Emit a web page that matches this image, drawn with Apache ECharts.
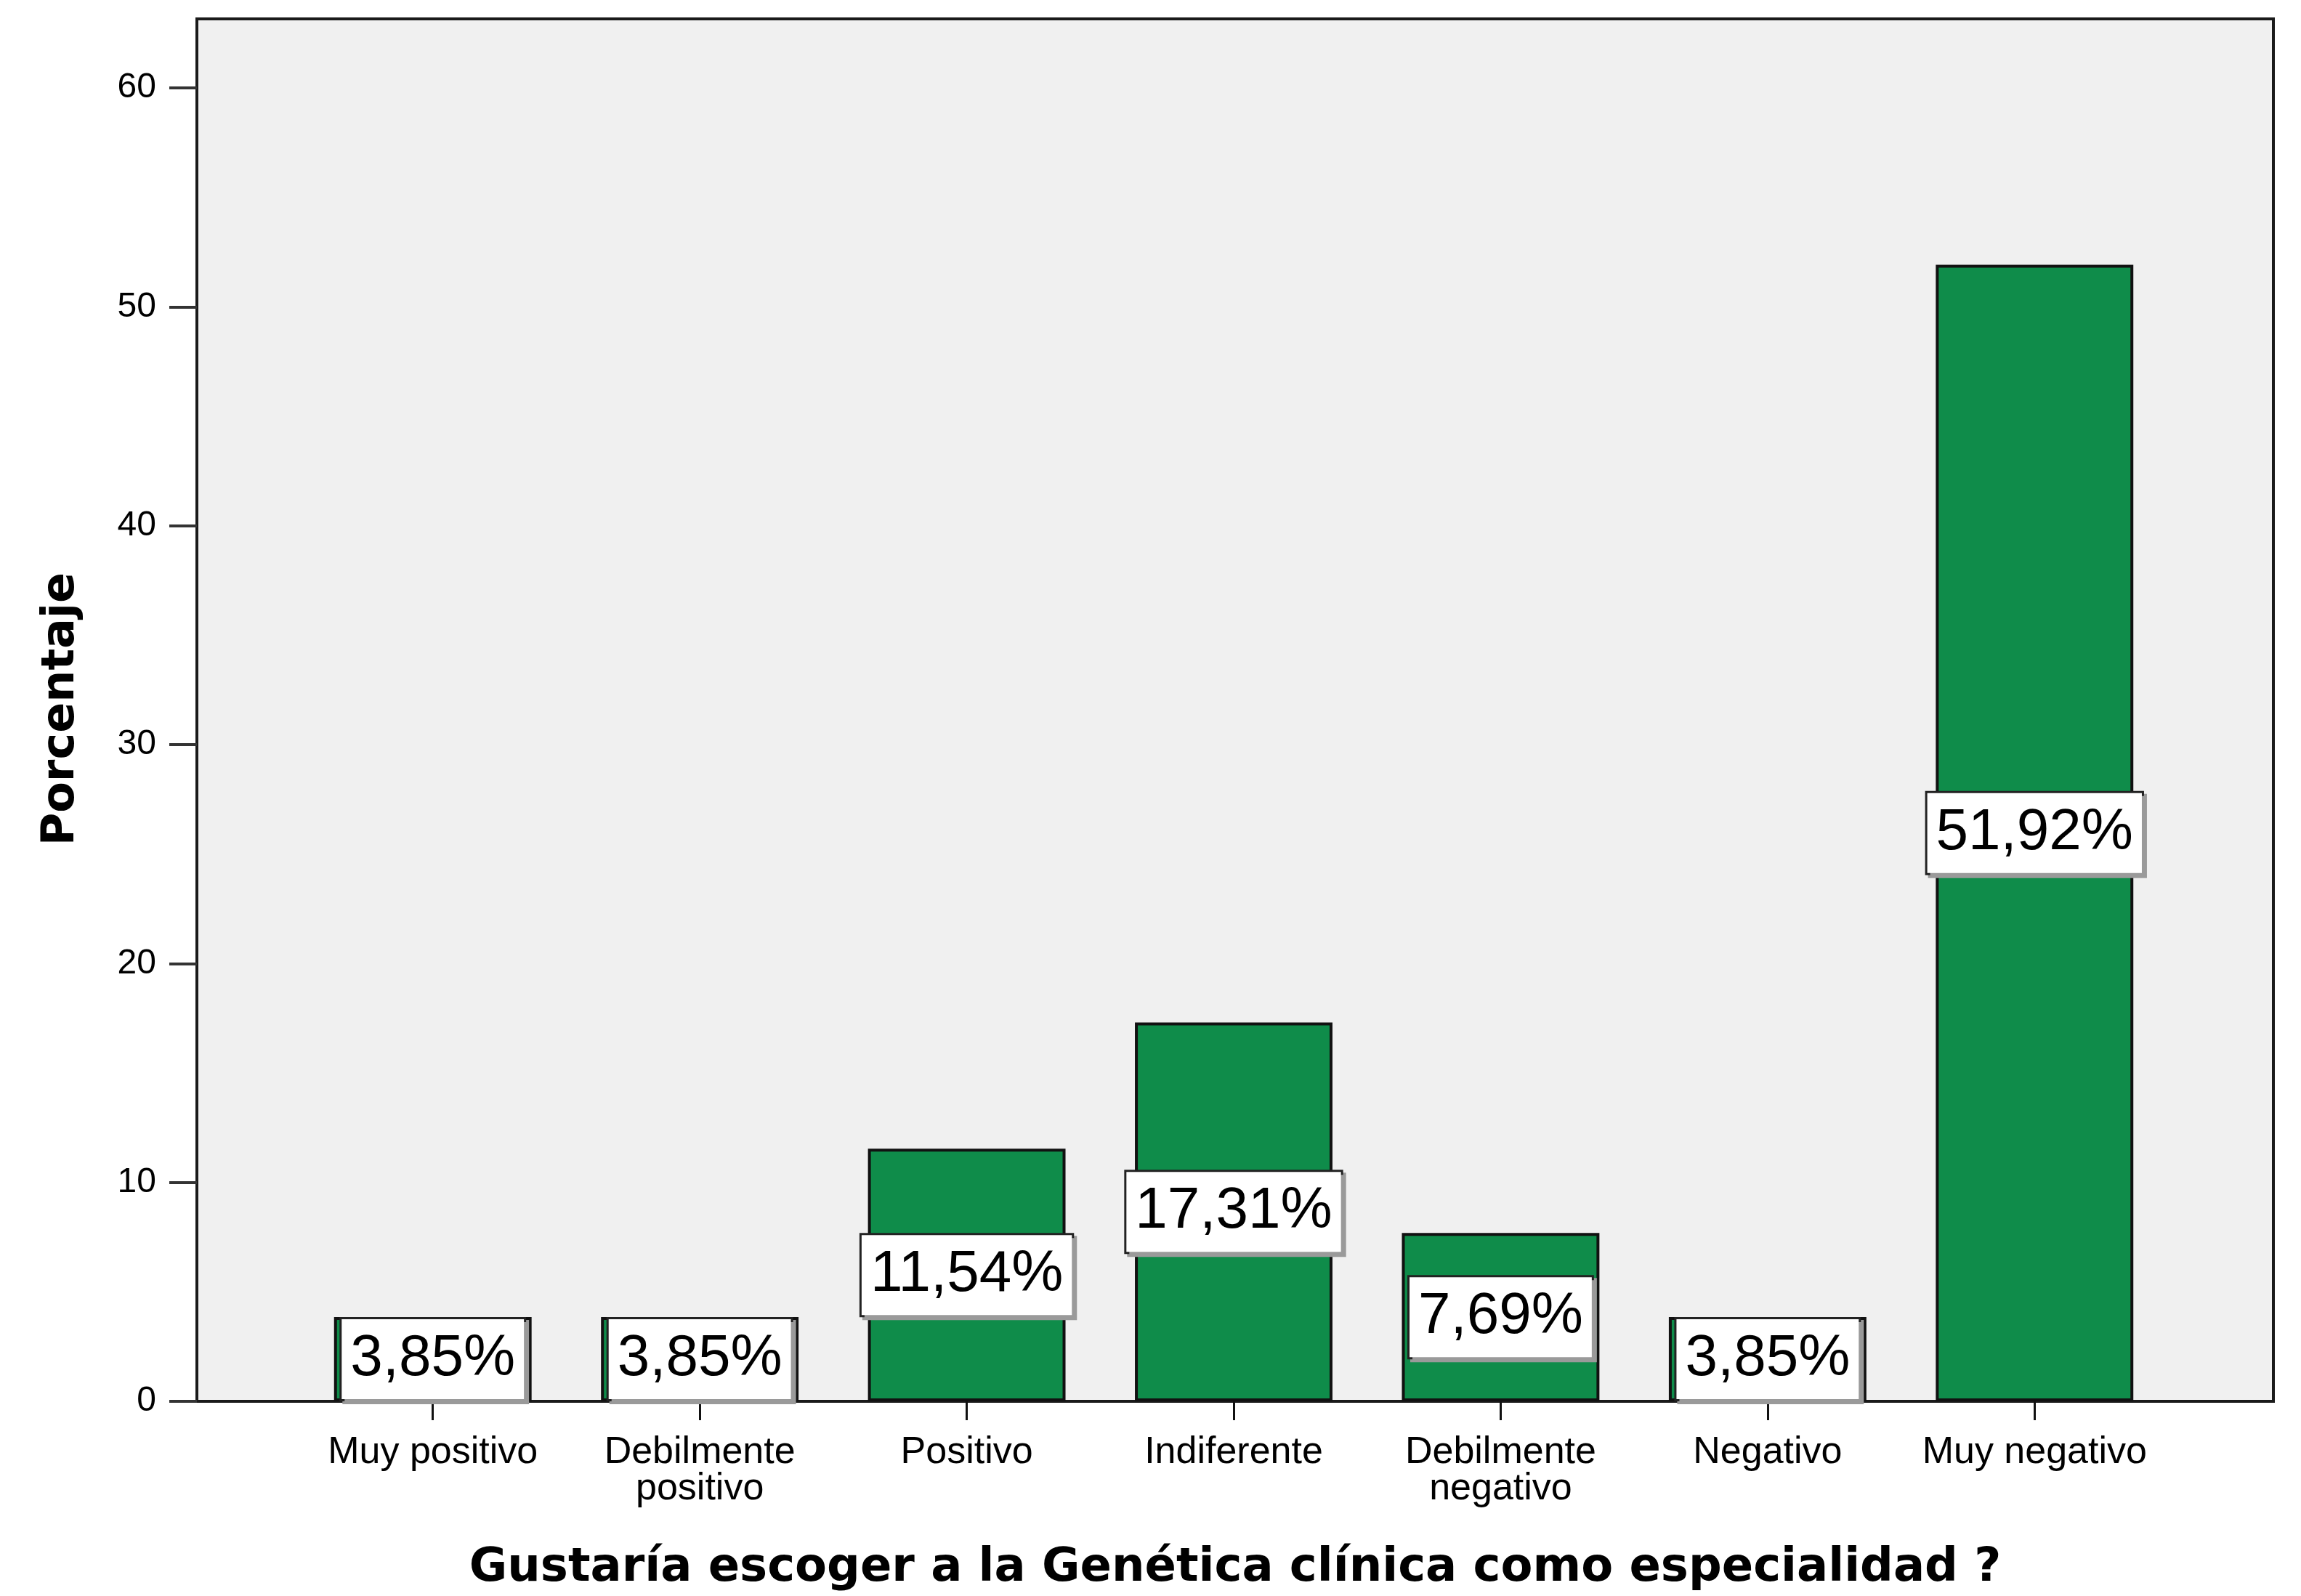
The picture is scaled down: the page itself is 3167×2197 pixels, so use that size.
<!DOCTYPE html>
<html>
<head>
<meta charset="utf-8">
<title>Gustaría escoger a la Genética clínica como especialidad ?</title>
<script src="https://cdn.jsdelivr.net/npm/echarts@6.0.0/dist/echarts.min.js"></script>
<style>
  html, body { margin: 0; padding: 0; background: #fff; }
  #chart { width: 3167px; height: 2197px; }
</style>
</head>
<body>
<div id="chart"></div>
<script>
// categorias del eje X
const categorias = [
  'Muy positivo',
  'Debilmente\npositivo',
  'Positivo',
  'Indiferente',
  'Debilmente\nnegativo',
  'Negativo',
  'Muy negativo'
];
// porcentajes de cada barra
const porcentajes = [3.85, 3.85, 11.54, 17.31, 7.69, 3.85, 51.92];
// marcas del eje Y
const ticksY = [0, 10, 20, 30, 40, 50, 60];

const yMax = 60;
const verde = '#0f8c4a';
const fuente = 'Liberation Sans, Arial, sans-serif';

let myChart = echarts.init(document.getElementById('chart'));

let option = {
  animation: false,
  backgroundColor: '#ffffff',
  grid: [
    // marco gris del grafico
    {
      left: 271, top: 26, width: 2858, height: 1903,
      show: true,
      backgroundColor: '#f0f0f0',
      borderColor: '#1a1a1a',
      borderWidth: 4
    },
    // zona de las barras (mas estrecha que el marco), de 0 a 60
    {
      left: 412, top: 121, width: 2572, height: 1808
    },
    // eje Y de 0 a 60 pegado al marco
    {
      left: 271, top: 121, width: 2858, height: 1808
    }
  ],
  xAxis: [
    {
      gridIndex: 0,
      type: 'value',
      min: 0, max: 1,
      axisLine: { show: false },
      axisTick: { show: false },
      axisLabel: { show: false },
      splitLine: { show: false },
      name: 'Gustaría escoger a la Genética clínica como especialidad ?',
      nameLocation: 'middle',
      nameGap: 198,
      nameTextStyle: {
        fontFamily: 'DejaVu Sans',
        fontWeight: 'bold',
        fontSize: 64,
        color: '#000'
      }
    },
    {
      gridIndex: 1,
      type: 'category',
      data: categorias,
      axisLine: { show: false },
      axisTick: {
        show: true,
        alignWithLabel: true,
        length: 26,
        lineStyle: { color: '#111', width: 3 }
      },
      axisLabel: {
        margin: 46,
        fontFamily: fuente,
        fontSize: 52,
        lineHeight: 50,
        color: '#000',
        interval: 0
      },
      splitLine: { show: false }
    },
    {
      gridIndex: 2,
      type: 'value',
      min: 0, max: 1,
      show: false
    }
  ],
  yAxis: [
    {
      gridIndex: 0,
      type: 'value',
      min: 0, max: 1,
      show: false
    },
    {
      gridIndex: 1,
      type: 'value',
      min: 0,
      max: yMax,
      show: false
    },
    {
      gridIndex: 2,
      type: 'value',
      min: 0,
      max: yMax,
      interval: 10,
      axisLine: { show: false },
      axisTick: {
        show: true,
        length: 38,
        lineStyle: { color: '#333', width: 4 }
      },
      axisLabel: {
        margin: 56,
        fontFamily: fuente,
        fontSize: 48,
        color: '#000',
        formatter: function (v) {
          return ticksY.indexOf(v) >= 0 ? String(v) : '';
        }
      },
      splitLine: { show: false },
      name: 'Porcentaje',
      nameLocation: 'middle',
      nameGap: 155,
      nameRotate: 90,
      nameTextStyle: {
        fontFamily: 'DejaVu Sans',
        fontWeight: 'bold',
        fontSize: 62,
        color: '#000',
        padding: [0, 0, 0, 98]
      }
    }
  ],
  series: [
    {
      name: 'Porcentaje',
      type: 'bar',
      xAxisIndex: 1,
      yAxisIndex: 1,
      data: porcentajes,
      barWidth: '74%',
      itemStyle: {
        color: verde,
        borderColor: '#111',
        borderWidth: 4
      },
      label: {
        show: true,
        position: 'inside',
        formatter: function (p) {
          return p.value.toFixed(2).replace('.', ',') + '%';
        },
        fontFamily: fuente,
        fontSize: 80,
        color: '#000',
        backgroundColor: '#ffffff',
        borderColor: '#222',
        borderWidth: 3,
        padding: [18, 12, 12, 12],
        shadowColor: '#9a9a9a',
        shadowOffsetX: 4,
        shadowOffsetY: 4,
        shadowBlur: 0
      }
    }
  ]
};

myChart.setOption(option);
</script>
</body>
</html>
